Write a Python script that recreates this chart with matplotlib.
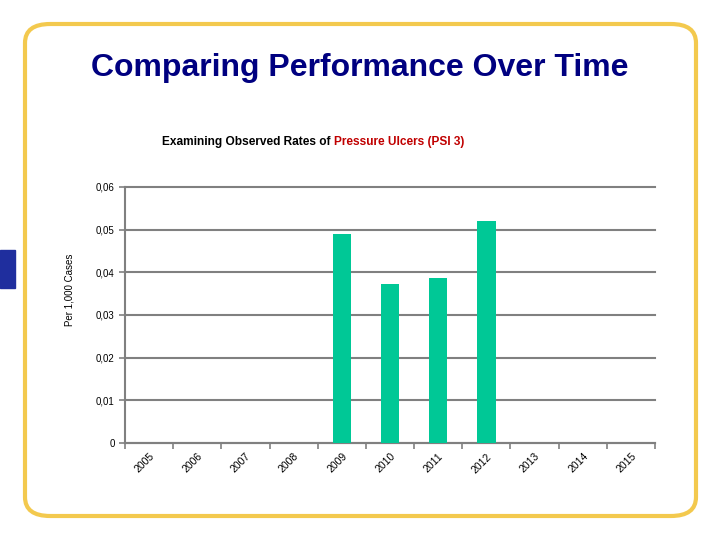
import numpy as np
import matplotlib.pyplot as plt
from matplotlib.patches import FancyBboxPatch, Rectangle

plt.rcParams['font.family'] = ['Liberation Sans', 'DejaVu Sans']

# datos
years = ['2005', '2006', '2007', '2008', '2009', '2010', '2011', '2012', '2013', '2014', '2015']
rates = [0, 0, 0, 0, 0.0490, 0.0372, 0.0386, 0.0520, 0, 0, 0]
yticks = [0, 0.01, 0.02, 0.03, 0.04, 0.05, 0.06]
ytick_labels = ['0', '0,01', '0,02', '0,03', '0,04', '0,05', '0,06']

fig = plt.figure(figsize=(7.2, 5.4), dpi=100)

# marco redondeado amarillo
marco = FancyBboxPatch((25 / 720, 1 - 516 / 540), 671 / 720, 492 / 540,
                       boxstyle='round,pad=0,rounding_size=0.035',
                       transform=fig.transFigure, fill=False,
                       edgecolor='#F3C94E', linewidth=3)
fig.patches.append(marco)
fig.patches.append(Rectangle((0, 1 - 288 / 540), 15 / 720, 38 / 540,
                             transform=fig.transFigure, color='#1F2E9E'))

fig.text(360 / 720, 1 - 68 / 540, 'Comparing Performance Over Time',
         ha='center', va='center', fontsize=23, fontweight='bold', color='#000080')

t1 = fig.text(162 / 720, 1 - 142 / 540, 'Examining Observed Rates of ',
              ha='left', va='center', fontsize=8.6, fontweight='bold', color='black')
fig.canvas.draw()
bb = t1.get_window_extent()
fig.text(bb.x1 / 720, 1 - 142 / 540, 'Pressure Ulcers (PSI 3)',
         ha='left', va='center', fontsize=8.6, fontweight='bold', color='#C00000')

ax = fig.add_axes([125 / 720, 1 - 443 / 540, 530 / 720, 256 / 540])
x = np.arange(len(years))
ax.bar(x, rates, width=0.38, color='#00C896', zorder=3)

ax.set_xlim(-0.5, len(years) - 0.5)
ax.set_ylim(0, 0.06)
ax.set_yticks(yticks)
ax.set_yticklabels(ytick_labels, fontsize=7)
ax.yaxis.grid(True, color='#808080', linewidth=1.5, zorder=0)
for line in ax.get_ygridlines():
    line.set_clip_on(False)

ax.set_xticks(x)
ax.set_xticklabels(years, rotation=45, ha='right', rotation_mode='anchor', fontsize=7.5)
ax.tick_params(axis='x', which='major', length=0, pad=6)
ax.set_xticks(np.arange(len(years) + 1) - 0.5, minor=True)
ax.tick_params(axis='x', which='minor', length=4, color='#808080', width=1.2)
ax.tick_params(axis='y', length=4, color='#808080', width=1.2)

for s in ['top', 'right']:
    ax.spines[s].set_visible(False)
for s in ['left', 'bottom']:
    ax.spines[s].set_color('#808080')
    ax.spines[s].set_linewidth(1.5)

ax.set_ylabel('Per 1,000 Cases', fontsize=7)
ax.yaxis.set_label_coords(-0.095, 0.6)

fig.savefig('out.png', dpi=100)
